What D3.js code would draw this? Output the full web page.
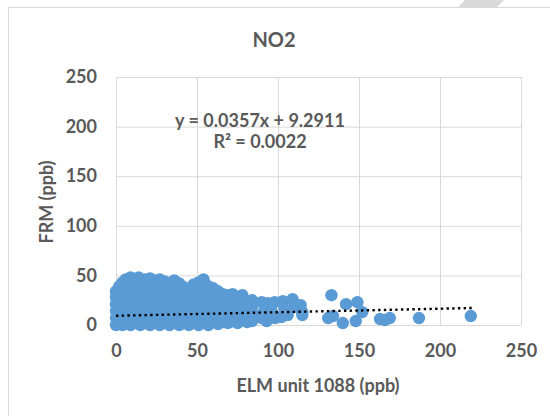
<!DOCTYPE html>
<html>
<head>
<meta charset="utf-8">
<script src="https://cdn.jsdelivr.net/npm/d3@7"></script>
<style>
  body { margin: 0; background: #fff; }
  text { font-family: Lato, "Open Sans", sans-serif; fill: #595959; }
</style>
</head>
<body>
<div id="chart"></div>
<script>
const w = 550;
const h = 416;

const xTicks = [0, 50, 100, 150, 200, 250];
const yTicks = [0, 50, 100, 150, 200, 250];

// dense cloud, read column by column: [ELM, FRM]
const densePoints = [
    [0, 0], [0, 7], [0, 14], [0, 21], [0, 28], [0, 34],
    [2, 3], [2, 10], [2, 17], [2, 24], [2, 31], [2, 39],
    [4, 0], [4, 7], [4, 14], [4, 21], [4, 28], [4, 35], [4, 43],
    [6, 3], [6, 10], [6, 17], [6, 24], [6, 31], [6, 38], [6, 46],
    [9, 0], [9, 7], [9, 14], [9, 21], [9, 28], [9, 35], [9, 42], [9, 48],
    [12, 3], [12, 10], [12, 17], [12, 24], [12, 31], [12, 38], [12, 46],
    [14, 48],
    [15, 0], [15, 7], [15, 14], [15, 21], [15, 28], [15, 35], [15, 42],
    [18, 3], [18, 10], [18, 17], [18, 24], [18, 31], [18, 38], [18, 46],
    [21, 0], [21, 7], [21, 14], [21, 21], [21, 28], [21, 35], [21, 42], [21, 47],
    [24, 3], [24, 10], [24, 17], [24, 24], [24, 31], [24, 38], [24, 45],
    [27, 0], [27, 7], [27, 14], [27, 21], [27, 28], [27, 35], [27, 42], [27, 46],
    [30, 3], [30, 10], [30, 17], [30, 24], [30, 31], [30, 38], [30, 44],
    [33, 0], [33, 7], [33, 14], [33, 21], [33, 28], [33, 35], [33, 41],
    [36, 3], [36, 10], [36, 17], [36, 24], [36, 31], [36, 38], [36, 45],
    [39, 0], [39, 7], [39, 14], [39, 21], [39, 28], [39, 35], [39, 42],
    [42, 3], [42, 10], [42, 17], [42, 24], [42, 31], [42, 38],
    [45, 0], [45, 7], [45, 14], [45, 21], [45, 28], [45, 35],
    [48, 3], [48, 10], [48, 17], [48, 24], [48, 31], [48, 38], [48, 41],
    [51, 0], [51, 7], [51, 14], [51, 21], [51, 28], [51, 35], [51, 43],
    [54, 3], [54, 10], [54, 17], [54, 24], [54, 31], [54, 38], [54, 46],
    [57, 0], [57, 7], [57, 14], [57, 21], [57, 28], [57, 35], [57, 39],
    [60, 3], [60, 10], [60, 17], [60, 24], [60, 31], [60, 37],
    [63, 1], [63, 8], [63, 15], [63, 22], [63, 29], [63, 34],
    [66, 3], [66, 10], [66, 17], [66, 24], [66, 31],
    [69, 2], [69, 9], [69, 16], [69, 23], [69, 30],
    [72, 4], [72, 11], [72, 18], [72, 25], [72, 31],
    [75, 2], [75, 9], [75, 16], [75, 23], [75, 28],
    [78, 5], [78, 12], [78, 19], [78, 26], [78, 30],
    [81, 3], [81, 10], [81, 17], [81, 23],
    [84, 4], [84, 12], [84, 19], [84, 25]
];

// sparser points to the right
const sparsePoints = [
    [90, 23], [94, 22], [98, 23], [103, 24], [109, 26], [114, 20], [115, 13], [115, 10],
    [90, 7], [93, 4], [98, 7], [102, 8], [106, 10], [91, 13], [96, 14], [104, 16], [110, 18],
    [131, 7], [134, 9], [133, 30], [140, 2], [142, 21], [148, 4], [149, 23], [152, 13],
    [163, 6], [166, 5], [169, 7], [187, 7], [219, 9]
];

const trendSlope = 0.0357;
const trendIntercept = 9.2911;
const trendRange = [0, 220];

const plotLeft = 116, plotRight = 521, plotTop = 77, plotBottom = 325;

const svg = d3.select("#chart")
    .append("svg")
    .attr("width", w)
    .attr("height", h);

// chart area border + page corner mark
svg.append("polygon")
    .attr("points", "465,0 504,0 497,7 458,7")
    .attr("fill", "#d9d9d9");
svg.append("rect")
    .attr("x", 8.5)
    .attr("y", 7.5)
    .attr("width", 600)
    .attr("height", 500)
    .attr("fill", "none")
    .attr("stroke", "#d9d9d9");

const x = d3.scaleLinear().domain([0, 250]).range([plotLeft, plotRight]);
const y = d3.scaleLinear().domain([0, 250]).range([plotBottom, plotTop]);

// gridlines
svg.append("g")
    .attr("transform", `translate(0, ${plotBottom})`)
    .call(d3.axisBottom(x).tickValues(xTicks).tickSize(-(plotBottom - plotTop)).tickFormat(""))
    .call(g => g.select(".domain").remove())
    .selectAll("line").attr("stroke", "#d9d9d9");

svg.append("g")
    .attr("transform", `translate(${plotLeft}, 0)`)
    .call(d3.axisLeft(y).tickValues(yTicks).tickSize(-(plotRight - plotLeft)).tickFormat(""))
    .call(g => g.select(".domain").remove())
    .selectAll("line").attr("stroke", "#d9d9d9");

// tick labels
const xAxis = svg.append("g")
    .attr("transform", `translate(0, ${plotBottom})`)
    .call(d3.axisBottom(x).tickValues(xTicks).tickSize(0).tickPadding(19));
xAxis.select(".domain").remove();
xAxis.selectAll("text")
    .style("font-size", "18px")
    .style("font-weight", "bold")
    .attr("fill", "#595959");

const yAxis = svg.append("g")
    .attr("transform", `translate(97, 0)`)
    .call(d3.axisLeft(y).tickValues(yTicks).tickSize(0).tickPadding(0));
yAxis.select(".domain").remove();
yAxis.selectAll("text")
    .style("font-size", "18px")
    .style("font-weight", "bold")
    .attr("fill", "#595959");

// points
const allPoints = densePoints.concat(sparsePoints);
svg.append("g")
    .selectAll("circle")
    .data(allPoints)
    .enter()
    .append("circle")
    .attr("cx", d => x(d[0]))
    .attr("cy", d => y(d[1]))
    .attr("r", 6.2)
    .attr("fill", "#5b9bd5");

// trendline
svg.append("line")
    .attr("x1", x(trendRange[0]))
    .attr("y1", y(trendSlope * trendRange[0] + trendIntercept))
    .attr("x2", x(trendRange[1]))
    .attr("y2", y(trendSlope * trendRange[1] + trendIntercept))
    .attr("stroke", "#000")
    .attr("stroke-width", 2.4)
    .attr("stroke-dasharray", "2.4 3.3");

// titles
svg.append("text")
    .attr("x", 274)
    .attr("y", 47)
    .attr("text-anchor", "middle")
    .style("font-size", "20px")
    .style("font-weight", "bold")
    .text("NO2");

svg.append("text")
    .attr("x", 260)
    .attr("y", 127)
    .attr("text-anchor", "middle")
    .style("font-size", "18px")
    .style("font-weight", "bold")
    .text("y = 0.0357x + 9.2911");

svg.append("text")
    .attr("x", 260)
    .attr("y", 148)
    .attr("text-anchor", "middle")
    .style("font-size", "18px")
    .style("font-weight", "bold")
    .text("R² = 0.0022");

svg.append("text")
    .attr("x", 318)
    .attr("y", 392)
    .attr("text-anchor", "middle")
    .style("font-size", "18px")
    .style("font-weight", "bold")
    .text("ELM unit 1088 (ppb)");

svg.append("text")
    .attr("transform", "translate(53, 202) rotate(-90)")
    .attr("text-anchor", "middle")
    .style("font-size", "18px")
    .style("font-weight", "bold")
    .text("FRM (ppb)");
</script>
</body>
</html>
